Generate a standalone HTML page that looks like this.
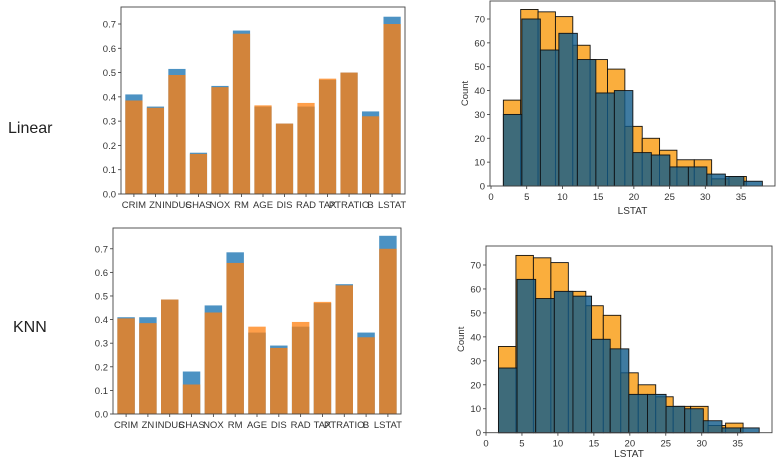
<!DOCTYPE html>
<html><head><meta charset="utf-8">
<style>
html,body{margin:0;padding:0;background:#fff;}
svg{display:block;font-family:"Liberation Sans",sans-serif;}
</style></head>
<body>
<svg id="root" width="784" height="470" viewBox="0 0 784 470" xmlns="http://www.w3.org/2000/svg">
<text x="8" y="133" font-size="16" fill="#222">Linear</text>
<text x="13" y="332" font-size="16" fill="#222">KNN</text>
</svg>
<script>
const features = ["CRIM","ZN","INDUS","CHAS","NOX","RM","AGE","DIS","RAD","TAX","PTRATIO","B","LSTAT"];
const linearBlue = [0.41,0.36,0.515,0.17,0.445,0.673,0.36,0.29,0.36,0.47,0.50,0.34,0.73];
const linearOrange = [0.385,0.355,0.49,0.165,0.44,0.66,0.365,0.29,0.375,0.475,0.50,0.32,0.70];
const knnBlue = [0.41,0.41,0.485,0.18,0.46,0.685,0.345,0.29,0.37,0.47,0.55,0.345,0.755];
const knnOrange = [0.405,0.385,0.485,0.125,0.43,0.64,0.37,0.28,0.39,0.475,0.545,0.325,0.70];
const barTicks = [0,0.1,0.2,0.3,0.4,0.5,0.6,0.7];
const blueBinStart = 1.73, blueBinWidth = 2.59;
const orangeBinStart = 1.73, orangeBinWidth = 2.43;
const orangeCounts = [36,74,73,71,59,53,49,25,20,15,11,11,3,4];
const linearBlueCounts = [30,70,57,64,53,39,40,14,13,8,8,5,4,2];
const knnBlueCounts = [27,64,56,59,57,39,35,16,16,11,10,5,2,2];
const histYTicks = [0,10,20,30,40,50,60,70];
const histXTicks = [0,5,10,15,20,25,30,35];

const NS="http://www.w3.org/2000/svg";
const root=document.getElementById('root');
function mk(tag,attrs,parent){const e=document.createElementNS(NS,tag);for(const k in attrs)e.setAttribute(k,attrs[k]);(parent||root).appendChild(e);return e;}

function barChart(name,L,R,T,B,ymax,blue,orange){
  const g=mk('g',{});
  
  
  const y=v=>B-(v/ymax)*(B-T);
  const n=features.length;
  const step=(R-L)/(n+0.2);
  const x=i=>L+step*(0.6+i);
  const w=step*0.8;
  features.forEach((f,i)=>{
    const b=mk('rect',{x:x(i)-w/2,y:y(blue[i]),width:w,height:B-y(blue[i]),fill:'#1f77b4','fill-opacity':0.8},g);
    
    
    const o=mk('rect',{x:x(i)-w/2,y:y(orange[i]),width:w,height:B-y(orange[i]),fill:'#ff7f0e','fill-opacity':0.75},g);
    
    
    const t=mk('text',{x:x(i),y:B+14,'font-size':9.5,'text-anchor':'middle',fill:'#333'},g);
    t.textContent=f;
    
    
    mk('line',{x1:x(i),x2:x(i),y1:B,y2:B+3,stroke:'#333','stroke-width':0.8},g);
  });
  barTicks.forEach(v=>{
    mk('line',{x1:L-3,x2:L,y1:y(v),y2:y(v),stroke:'#333','stroke-width':0.8},g);
    const t=mk('text',{x:L-5,y:y(v)+3.5,'font-size':9.5,'text-anchor':'end',fill:'#333'},g);
    t.textContent=v.toFixed(1);
    
    
  });
  const f=mk('rect',{x:L,y:T,width:R-L,height:B-T,fill:'none',stroke:'#444','stroke-width':0.9},g);
  
  
}

function histChart(name,L,R,T,B,x0px,x35px,y70px,blueCounts,labelY){
  const g=mk('g',{});
  
  
  const x=v=>x0px+v*(x35px-x0px)/35;
  const y=c=>B-c*(B-y70px)/70;
  orangeCounts.forEach((c,i)=>{
    const a=orangeBinStart+i*orangeBinWidth;
    const r=mk('rect',{x:x(a),y:y(c),width:x(a+orangeBinWidth)-x(a),height:B-y(c),fill:'#f9a01b','fill-opacity':0.85,stroke:'#111','stroke-width':0.9},g);
    
    
  });
  blueCounts.forEach((c,i)=>{
    const a=blueBinStart+i*blueBinWidth;
    const r=mk('rect',{x:x(a),y:y(c),width:x(a+blueBinWidth)-x(a),height:B-y(c),fill:'#0f5a8a','fill-opacity':0.8,stroke:'#111','stroke-width':0.9},g);
    
    
  });
  histYTicks.forEach(v=>{
    mk('line',{x1:L-3,x2:L,y1:y(v),y2:y(v),stroke:'#333','stroke-width':0.8},g);
    const t=mk('text',{x:L-5,y:y(v)+3.5,'font-size':9.5,'text-anchor':'end',fill:'#333'},g);
    t.textContent=v;
    
    
  });
  histXTicks.forEach(v=>{
    mk('line',{x1:x(v),x2:x(v),y1:B,y2:B+3,stroke:'#333','stroke-width':0.8},g);
    const t=mk('text',{x:x(v),y:B+14,'font-size':9.5,'text-anchor':'middle',fill:'#333'},g);
    t.textContent=v;
    
    
  });
  const xl=mk('text',{x:(L+R)/2,y:labelY,'font-size':10,'text-anchor':'middle',fill:'#333'},g);
  xl.textContent='LSTAT';
  
  
  const yl=mk('text',{x:0,y:0,'font-size':9.5,'text-anchor':'middle',fill:'#333',transform:'translate('+(L-22)+','+((T+B)/2)+') rotate(-90)'},g);
  yl.textContent='Count';
  
  
  const f=mk('rect',{x:L,y:T,width:R-L,height:B-T,fill:'none',stroke:'#444','stroke-width':0.9},g);
  
  
}

barChart('linear-importance-chart',121,405,7,194,0.77,linearBlue,linearOrange);
barChart('knn-importance-chart',113,401,228,414,0.788,knnBlue,knnOrange);
histChart('linear-lstat-histogram',490,775,1,186,491,741,19,linearBlueCounts,214);
histChart('knn-lstat-histogram',486,772,246,432.7,486,737.7,265,knnBlueCounts,457);
</script>
</body></html>
